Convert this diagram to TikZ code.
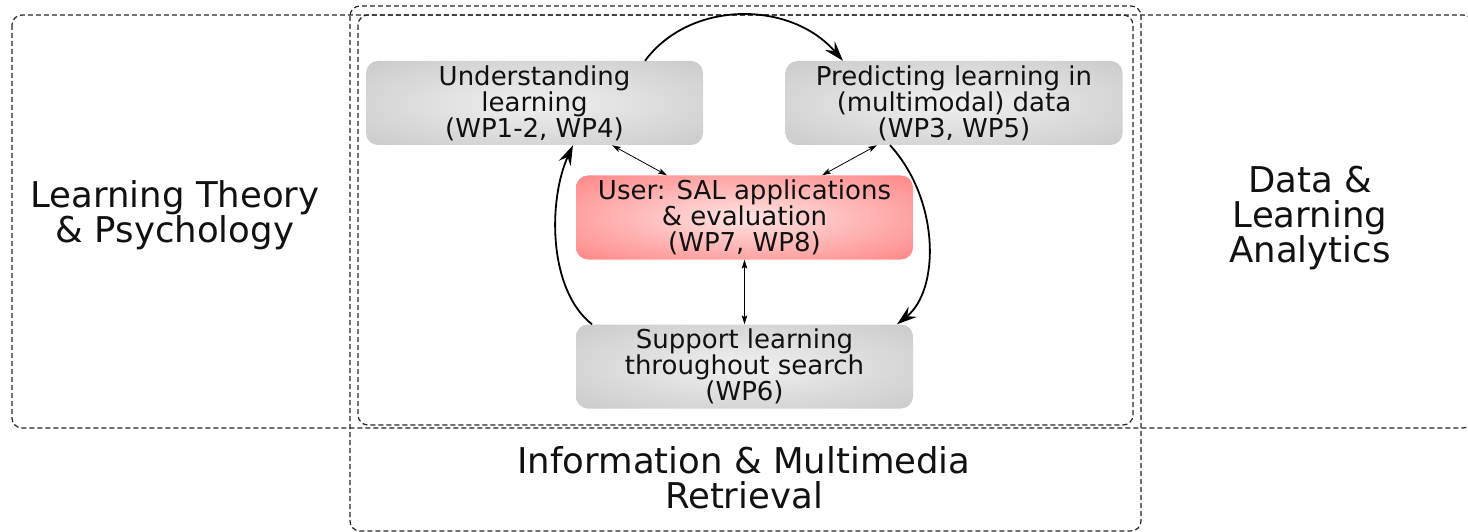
\documentclass[tikz,border=0pt]{standalone}
\usepackage{fontspec}
\setmainfont{DejaVu Sans}
\usetikzlibrary{arrows.meta}
\definecolor{txt}{HTML}{111111}
\definecolor{grayout}{HTML}{C8C8C8}
\definecolor{grayin}{HTML}{F0F0F0}
\definecolor{redout}{HTML}{FF8080}
\definecolor{redin}{HTML}{FFE4E4}
\pgfdeclareradialshading{softgray}{\pgfpoint{0bp}{0bp}}{color(0bp)=(grayin); color(38bp)=(grayout); color(50bp)=(grayout)}
\pgfdeclareradialshading{softred}{\pgfpoint{0bp}{0bp}}{color(0bp)=(redin); color(38bp)=(redout); color(50bp)=(redout)}
\tikzset{
  region/.style={draw=black!85, line width=1.2pt, dash pattern=on 5pt off 3pt, rounded corners=10pt},
  wpbox/.style={rounded corners=12pt, minimum width=337pt, minimum height=84pt, inner sep=0pt,
    align=center, text=txt, font=\fontsize{26}{26}\selectfont},
  graybox/.style={wpbox, shading=softgray},
  redbox/.style={wpbox, shading=softred},
  biglabel/.style={align=center, text=txt, font=\fontsize{35.5}{35}\selectfont},
  cyclearrow/.style={line width=1.8pt, -{Stealth[length=20pt,width=13pt,inset=7pt]}},
  linkarrow/.style={line width=0.8pt, {Stealth[length=9pt,width=5.5pt,inset=2pt]}-{Stealth[length=9pt,width=5.5pt,inset=2pt]}}
}
\begin{document}
\begin{tikzpicture}[x=1pt,y=-1pt]
\useasboundingbox (0,0) rectangle (1468,532);
% regions
\draw[region] (12,15) rectangle (1473,428);
\draw[region] (350,6) rectangle (1141,531);
\draw[region] (358,15) rectangle (1133,425);
% labels
\node[biglabel] (lt) at (175,215.5) {Learning Theory\\\& Psychology};
\node[biglabel] (da) at (1310,218) {Data \&\\Learning\\Analytics};
\node[biglabel] (ir) at (744,478) {Information \& Multimedia\\Retrieval};
% boxes
\node[graybox] (und) at (534.5,103) {Understanding\\learning\\(WP1-2, WP4)};
\node[graybox] (pred) at (954,103) {Predicting learning in\\(multimodal) data\\(WP3, WP5)};
\node[redbox] (user) at (744.5,217.5) {User: SAL applications\\\& evaluation\\(WP7, WP8)};
\node[graybox] (sup) at (744.5,366.5) {Support learning\\throughout search\\(WP6)};
% cycle arrows
\draw[cyclearrow] ([xshift=110.5pt]und.north) .. controls (690,0) and (790,0) .. ([xshift=-111pt]pred.north);
\draw[cyclearrow] ([xshift=-64pt]pred.south) .. controls (940,200) and (940,290) .. ([xshift=152.5pt]sup.north);
\draw[cyclearrow] ([xshift=-152.5pt]sup.north) .. controls (548,290) and (548,200) .. ([xshift=38.5pt]und.south);
% links
\draw[linkarrow] ([xshift=77.5pt]und.south) -- ([xshift=-77.5pt]user.north);
\draw[linkarrow] ([xshift=-77pt]pred.south) -- ([xshift=77.5pt]user.north);
\draw[linkarrow] (user.south) -- (sup.north);
\end{tikzpicture}
\end{document}
